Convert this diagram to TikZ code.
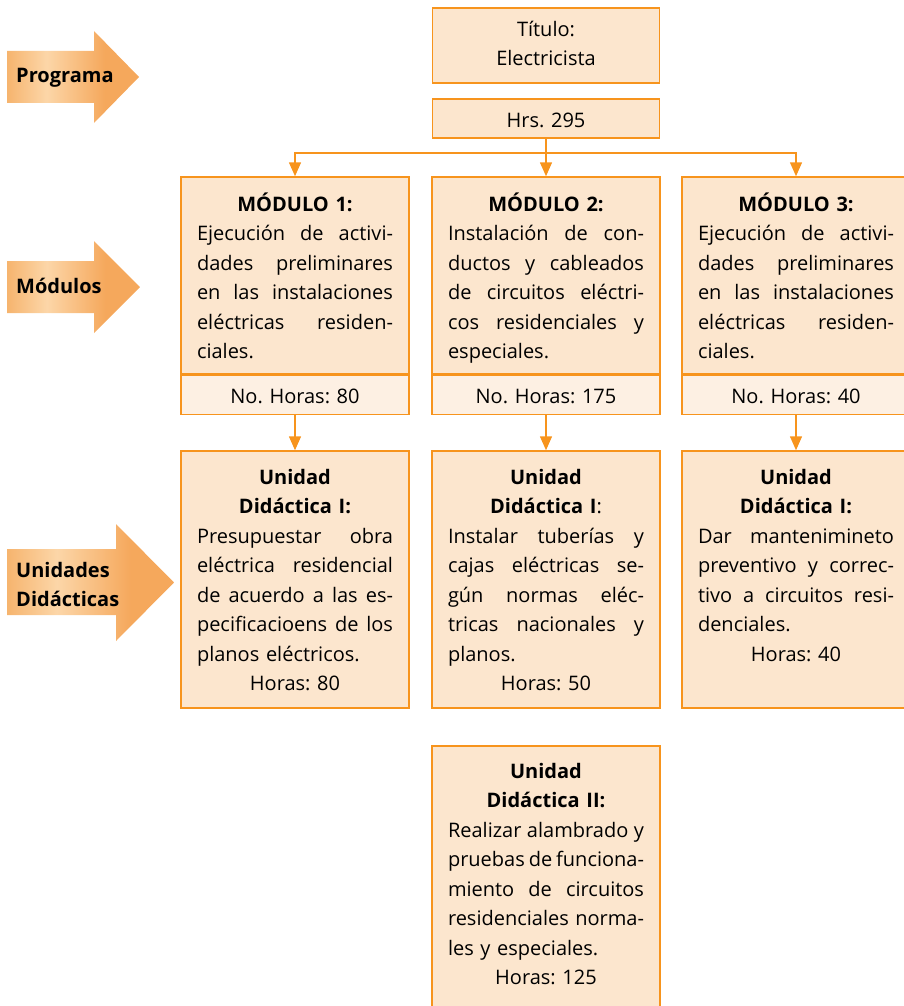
\documentclass[tikz,border=0pt]{standalone}
\usepackage{fontspec}
\setmainfont{Open Sans}
\usetikzlibrary{arrows.meta,positioning,calc}
\definecolor{naranja}{RGB}{247,148,29}
\definecolor{crema}{RGB}{252,230,206}
\definecolor{cremaclaro}{RGB}{253,240,227}
\definecolor{tagleft}{RGB}{246,180,110}
\definecolor{tagdark}{RGB}{245,168,92}
\definecolor{taglight}{RGB}{252,214,168}
\pgfdeclarehorizontalshading{tagshade}{100bp}{color(0bp)=(tagleft); color(25bp)=(tagleft);
  color(40bp)=(taglight); color(62bp)=(tagdark); color(100bp)=(tagdark)}
\newcommand\jl[1]{\hbox to\hsize{\spaceskip=\fontdimen2\font plus 1fil minus .08em\relax #1}\par}
\newcommand\lt[1]{\hbox{#1}\par}
\newcommand\ct[1]{\centerline{#1}\par}
\newcommand\hd[1]{\centerline{\bfseries #1}\par}
\tikzset{
  caja/.style={draw=naranja, fill=crema, line width=1.5pt, minimum width=228pt, inner sep=0pt},
  horas/.style={caja, fill=cremaclaro, minimum height=39pt},
  texto/.style={anchor=base, inner sep=0pt, text width=196pt, font=\fontsize{20}{29.5}\selectfont\frenchspacing},
  flecha/.style={draw=naranja, line width=1.5pt, -{Triangle[width=12pt,length=14pt]}},
  tag/.style={shading=tagshade},
  tagtxt/.style={anchor=base west, inner sep=0pt, font=\fontsize{20}{29.5}\selectfont\bfseries}
}
\begin{document}
\begin{tikzpicture}[x=1pt,y=-1pt]
\useasboundingbox (0,0) rectangle (903,1006);

% etiquetas de la izquierda
\shade[tag] (7,51) -- (94,51) -- (94,31) -- (139,77) -- (94,123) -- (94,103) -- (7,103) -- cycle;
\node[tagtxt] (lprog) at (16,83) {Programa};

\shade[tag] (7,261) -- (94,261) -- (94,241) -- (140,287) -- (94,333) -- (94,313) -- (7,313) -- cycle;
\node[tagtxt] (lmod) at (16,293) {Módulos};

\shade[tag] (7,549) -- (116,549) -- (116,524) -- (174,582.5) -- (116,641) -- (116,615) -- (7,615) -- cycle;
\node[tagtxt, text width=150pt] (lund) at (16,577) {Unidades\par Didácticas};

% programa
\node[caja, minimum width=227pt, minimum height=75pt] (ttl) at (546,45.5) {};
\node[texto] (ttltxt) at ([yshift=-29pt]ttl.north) {\ct{Título:}\ct{Electricista}};

\node[caja, minimum width=227pt, minimum height=39pt] (hrs) at (546,118.5) {};
\node[texto] (hrstxt) at ([yshift=-29pt]hrs.north) {\ct{Hrs. 295}};

% modulos
\node[caja, minimum height=197pt] (m1) at (295,275.5) {};
\node[caja, minimum height=197pt] (m2) at (546,275.5) {};
\node[caja, minimum height=197pt] (m3) at (796,275.5) {};

\node[horas, below=0pt of m1] (h1) {};
\node[horas, below=0pt of m2] (h2) {};
\node[horas, below=0pt of m3] (h3) {};

\node[texto] (m1txt) at ([yshift=-35pt]m1.north) {\hd{MÓDULO 1:}
\jl{Ejecución de activi-}
\jl{dades preliminares}
\jl{en las instalaciones}
\jl{eléctricas residen-}
\lt{ciales.}};
\node[texto] (m2txt) at ([yshift=-35pt]m2.north) {\hd{MÓDULO 2:}
\jl{Instalación de con-}
\jl{ductos y cableados}
\jl{de circuitos eléctri-}
\jl{cos residenciales y}
\lt{especiales.}};
\node[texto] (m3txt) at ([yshift=-35pt]m3.north) {\hd{MÓDULO 3:}
\jl{Ejecución de activi-}
\jl{dades preliminares}
\jl{en las instalaciones}
\jl{eléctricas residen-}
\lt{ciales.}};

\node[texto] (h1txt) at ([yshift=-29pt]h1.north) {\ct{No. Horas: 80}};
\node[texto] (h2txt) at ([yshift=-29pt]h2.north) {\ct{No. Horas: 175}};
\node[texto] (h3txt) at ([yshift=-29pt]h3.north) {\ct{No. Horas: 40}};

% unidades didacticas
\node[caja, minimum height=257pt] (u1) at (295,579.5) {};
\node[caja, minimum height=257pt] (u2) at (546,579.5) {};
\node[caja, minimum height=257pt] (u3) at (796,579.5) {};
\node[caja, minimum height=274pt] (u4) at (546,883) {};

\node[texto] (u1txt) at ([yshift=-34pt]u1.north) {\hd{Unidad}\hd{Didáctica I:}
\jl{Presupuestar obra}
\jl{eléctrica residencial}
\jl{de acuerdo a las es-}
\jl{pecificacioens de los}
\lt{planos eléctricos.}
\ct{Horas: 80}};
\node[texto] (u2txt) at ([yshift=-34pt]u2.north) {\hd{Unidad}\ct{{\bfseries Didáctica I}:}
\jl{Instalar tuberías y}
\jl{cajas eléctricas se-}
\jl{gún normas eléc-}
\jl{tricas nacionales y}
\lt{planos.}
\ct{Horas: 50}};
\node[texto] (u3txt) at ([yshift=-34pt]u3.north) {\hd{Unidad}\hd{Didáctica I:}
\jl{Dar mantenimineto}
\jl{preventivo y correc-}
\jl{tivo a circuitos resi-}
\lt{denciales.}
\ct{Horas: 40}};
\node[texto] (u4txt) at ([yshift=-33pt]u4.north) {\hd{Unidad}\hd{Didáctica II:}
\jl{Realizar alambrado y}
\jl{pruebas de funciona-}
\jl{miento de circuitos}
\jl{residenciales norma-}
\lt{les y especiales.}
\ct{Horas: 125}};

% conectores
\coordinate (rama) at ($(hrs.south)+(0,14)$);
\draw[draw=naranja, line width=1.5pt] (hrs.south) -- (rama);
\draw[flecha] (rama) -| (m1.north);
\draw[flecha] (rama) -- (m2.north);
\draw[flecha] (rama) -| (m3.north);

\draw[flecha] (h1.south) -- (u1.north);
\draw[flecha] (h2.south) -- (u2.north);
\draw[flecha] (h3.south) -- (u3.north);

\end{tikzpicture}
\end{document}
